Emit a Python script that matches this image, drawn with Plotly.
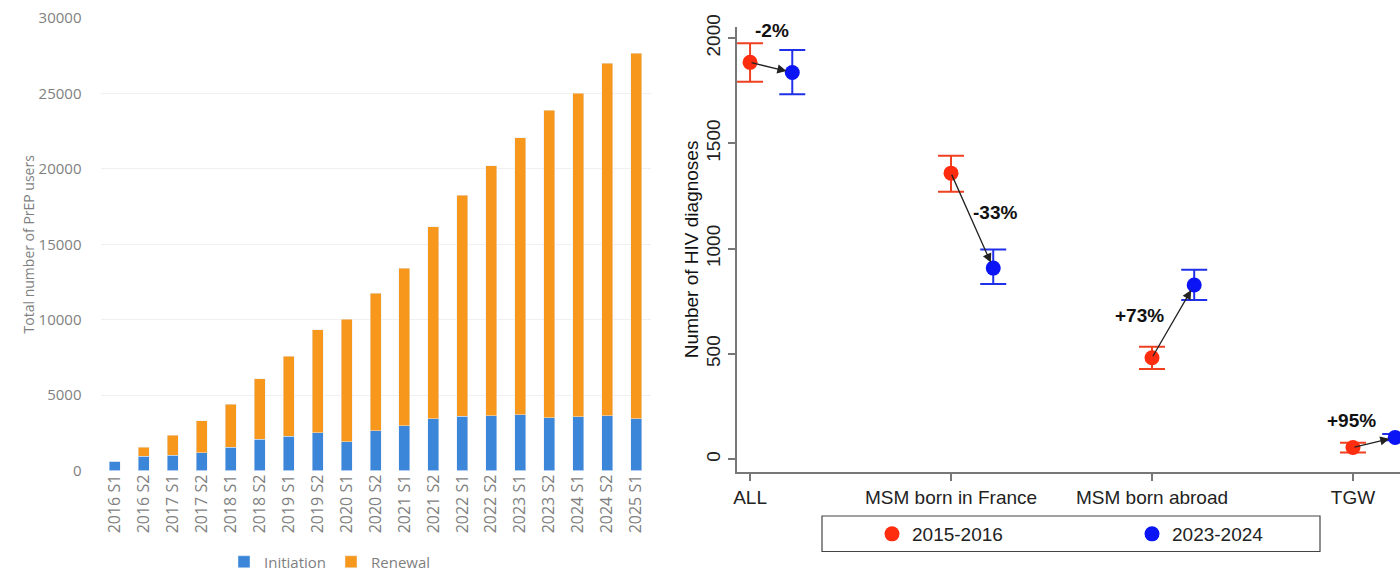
import numpy as np
import plotly.graph_objects as go

# ---------------- Left chart data ----------------
periods = ["2016 S1", "2016 S2", "2017 S1", "2017 S2", "2018 S1", "2018 S2",
           "2019 S1", "2019 S2", "2020 S1", "2020 S2", "2021 S1", "2021 S2",
           "2022 S1", "2022 S2", "2023 S1", "2023 S2", "2024 S1", "2024 S2",
           "2025 S1"]
initiation = [620, 950, 1000, 1180, 1530, 2070, 2270, 2490, 1890, 2620, 2960, 3440,
              3600, 3640, 3710, 3490, 3560, 3640, 3420]
total_users = [620, 1530, 2350, 3310, 4380, 6070, 7580, 9330, 10020, 11750, 13400, 16150,
               18250, 20200, 22050, 23900, 25000, 27000, 27650]
renewal = [t - i for t, i in zip(total_users, initiation)]
left_yticks = [0, 5000, 10000, 15000, 20000, 25000, 30000]

# ---------------- Right chart data ----------------
groups = ["ALL", "MSM born in France", "MSM born abroad", "TGW"]
hiv_2015_2016 = [1885, 1359, 482, 56]
hiv_2015_2016_hi = [1976, 1442, 534, 78]
hiv_2015_2016_lo = [1793, 1271, 429, 32]
hiv_2023_2024 = [1837, 908, 828, 104]
hiv_2023_2024_hi = [1944, 996, 900, 120]
hiv_2023_2024_lo = [1734, 833, 756, 90]
pct_change = ["-2%", "-33%", "+73%", "+95%"]
right_yticks = [0, 500, 1000, 1500, 2000]

LEFT_FONT = "Open Sans"
RIGHT_FONT = "Liberation Sans"
GRAY = "#7f7f7f"

fig = go.Figure()

# Left: stacked bars
fig.add_trace(go.Bar(x=periods, y=initiation, name="Initiation", marker_color="#3b86d8",
                     xaxis="x", yaxis="y", legend="legend"))
fig.add_trace(go.Bar(x=periods, y=renewal, name="Renewal", marker_color="#f7981d",
                     xaxis="x", yaxis="y", legend="legend"))

# Right: points with error bars
pos = np.arange(len(groups), dtype=float)
offset = 0.21
red_x = pos
blue_x = pos + offset

fig.add_trace(go.Scatter(
    x=red_x, y=hiv_2015_2016, mode="markers", name="2015-2016",
    marker=dict(color="#ff2d10", size=15),
    error_y=dict(type="data", symmetric=False,
                 array=[h - v for h, v in zip(hiv_2015_2016_hi, hiv_2015_2016)],
                 arrayminus=[v - l for v, l in zip(hiv_2015_2016, hiv_2015_2016_lo)],
                 color="#ef4020", thickness=2, width=13),
    xaxis="x2", yaxis="y2", legend="legend2"))
fig.add_trace(go.Scatter(
    x=blue_x, y=hiv_2023_2024, mode="markers", name="2023-2024",
    marker=dict(color="#0a14f5", size=15),
    error_y=dict(type="data", symmetric=False,
                 array=[h - v for h, v in zip(hiv_2023_2024_hi, hiv_2023_2024)],
                 arrayminus=[v - l for v, l in zip(hiv_2023_2024, hiv_2023_2024_lo)],
                 color="#2030e8", thickness=2, width=13),
    xaxis="x2", yaxis="y2", legend="legend2"))

annotations = []
# arrows red -> blue
for i in range(len(groups)):
    annotations.append(dict(
        x=blue_x[i], y=hiv_2023_2024[i], ax=red_x[i], ay=hiv_2015_2016[i],
        xref="x2", yref="y2", axref="x2", ayref="y2", text="",
        showarrow=True, arrowhead=2, arrowsize=1.4, arrowwidth=1.3,
        arrowcolor="#222222", standoff=6))
# percentage labels
label_pos = [(0.11, 2038), (1.22, 1174), (1.94, 681), (2.995, 182)]
for (lx, ly), txt in zip(label_pos, pct_change):
    annotations.append(dict(x=lx, y=ly, xref="x2", yref="y2", text="<b>%s</b>" % txt,
                            showarrow=False, font=dict(family=RIGHT_FONT, size=19, color="#111111")))

shapes = [dict(type="rect", xref="paper", yref="paper",
               x0=822 / 1400, x1=1320 / 1400, y0=(571 - 551.5) / 571, y1=(571 - 516) / 571,
               line=dict(color="#444444", width=1.2), fillcolor="rgba(0,0,0,0)")]

fig.update_layout(
    width=1400, height=571,
    margin=dict(l=0, r=0, t=0, b=0, autoexpand=False),
    paper_bgcolor="white", plot_bgcolor="white",
    barmode="stack", bargap=0.62,
    showlegend=True,
    xaxis=dict(domain=[100.5 / 1400, 650.5 / 1400], anchor="y", tickangle=-90,
               tickfont=dict(family=LEFT_FONT, size=16, color=GRAY),
               showline=False, ticks="", showgrid=False, automargin=False),
    yaxis=dict(domain=[(571 - 470.5) / 571, (571 - 18) / 571], anchor="x",
               range=[0, 30000], tickvals=left_yticks, tickformat="d",
               tickfont=dict(family=LEFT_FONT, size=15, color=GRAY),
               gridcolor="#f0f0f0", gridwidth=1, zeroline=False, showline=False,
               ticklabelstandoff=18, automargin=False,
               title=dict(text="Total number of PrEP users",
                          font=dict(family=LEFT_FONT, size=14, color=GRAY), standoff=0)),
    xaxis2=dict(domain=[737 / 1400, 1.0], anchor="y2", range=[-0.065, 3.234],
                tickvals=list(pos), ticktext=groups,
                tickfont=dict(family=RIGHT_FONT, size=19, color="#222222"),
                showline=True, linecolor="#777777", linewidth=2,
                ticks="outside", ticklen=7, tickcolor="#777777", tickwidth=1.5,
                showgrid=False, zeroline=False, automargin=False),
    yaxis2=dict(domain=[(571 - 471.7) / 571, (571 - 27) / 571], anchor="x2",
                range=[-59, 2053], tickvals=right_yticks, tickangle=-90,
                tickfont=dict(family=RIGHT_FONT, size=19, color="#222222"),
                showline=True, linecolor="#777777", linewidth=2,
                ticks="outside", ticklen=7, tickcolor="#777777", tickwidth=1.5,
                showgrid=False, zeroline=False, automargin=False,
                title=dict(text="Number of HIV diagnoses",
                           font=dict(family=RIGHT_FONT, size=19, color="#111111"), standoff=0)),
    legend=dict(orientation="h", x=330 / 1400, xanchor="center",
                y=(571 - 562) / 571, yanchor="middle", traceorder="normal",
                font=dict(family=LEFT_FONT, size=15, color=GRAY),
                bgcolor="rgba(0,0,0,0)", itemclick=False),
    legend2=dict(orientation="h", x=872 / 1400, xanchor="left",
                 y=(571 - 534) / 571, yanchor="middle",
                 font=dict(family=RIGHT_FONT, size=19, color="#222222"),
                 entrywidth=215, entrywidthmode="pixels",
                 bgcolor="rgba(0,0,0,0)", itemclick=False),
    annotations=annotations,
    shapes=shapes,
)

fig.write_html("out.html")
